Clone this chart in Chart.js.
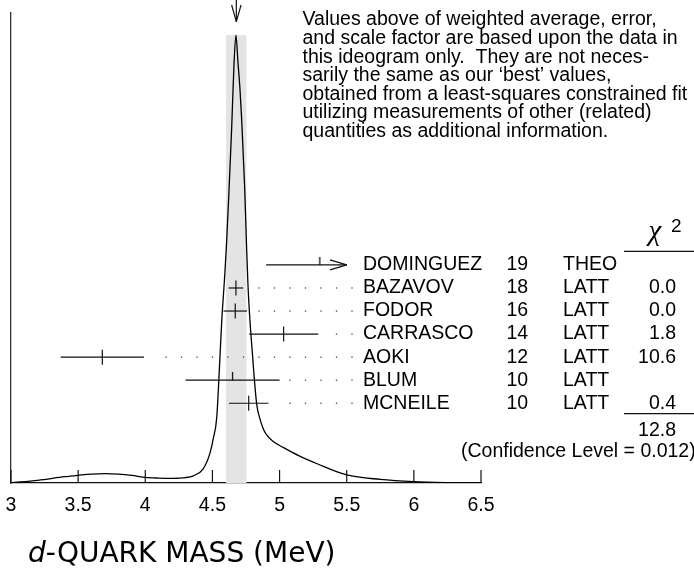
<!DOCTYPE html>
<html>
<head>
<meta charset="utf-8">
<script src="https://cdn.jsdelivr.net/npm/chart.js@4.4.1/dist/chart.umd.min.js"></script>
<style>
  html, body { margin: 0; padding: 0; background: #fff; }
  #wrap { width: 694px; height: 570px; }
</style>
</head>
<body>
<div id="wrap"><canvas id="ideogram" width="694" height="570"></canvas></div>
<script>
// measurements, top row first
const experiments = ['DOMINGUEZ', 'BAZAVOV', 'FODOR', 'CARRASCO', 'AOKI', 'BLUM', 'MCNEILE'];
const years = ['19', '18', '16', '14', '12', '10', '10'];
const methods = ['THEO', 'LATT', 'LATT', 'LATT', 'LATT', 'LATT', 'LATT'];
const chi2 = ['', '0.0', '0.0', '1.8', '10.6', '', '0.4'];
const masses = [5.30, 4.675, 4.67, 5.03, 3.68, 4.65, 4.77];
const errLow = [0.40, 0.054, 0.087, 0.256, 0.31, 0.35, 0.147];
const errHigh = [0.40, 0.054, 0.087, 0.258, 0.31, 0.35, 0.147];
const usedInFit = [false, true, true, true, true, false, true];

const chi2Total = '12.8';
const confidenceLevel = '0.012';
const average = 4.678;
const averageError = 0.077;   // scaled error -> grey band

// ideogram curve (peak = 100)
const curveMass = [3.0, 3.2, 3.4, 3.5, 3.6, 3.7, 3.8, 3.9, 4.0, 4.1, 4.2, 4.3, 4.357, 4.43, 4.48, 4.507,
  4.532, 4.551, 4.569, 4.593, 4.606, 4.62, 4.643, 4.66, 4.675, 4.69, 4.705, 4.718, 4.74, 4.755, 4.765,
  4.78, 4.80, 4.81, 4.83, 4.854, 4.88, 4.90, 4.95, 5.03, 5.15, 5.28, 5.5, 5.75, 6.0, 6.25, 6.5];
const curveHeight = [0.07, 0.6, 1.4, 1.72, 2.0, 2.08, 1.97, 1.68, 1.25, 1.1, 1.05, 1.2, 1.6, 3.1, 6.5, 10,
  14.6, 25, 36, 47, 54, 63, 79, 93, 100, 94, 88, 81, 66, 52, 44,
  36, 28, 24, 17.5, 14.3, 12.0, 10.9, 9.3, 7.9, 6.0, 4.3, 1.8, 0.8, 0.3, 0.1, 0.04];

const massTicks = [3, 3.5, 4, 4.5, 5, 5.5, 6, 6.5];

const noteLines = [
  'Values above of weighted average, error,',
  'and scale factor are based upon the data in',
  'this ideogram only.  They are not neces-',
  'sarily the same as our \u2018best\u2019 values,',
  'obtained from a least-squares constrained fit',
  'utilizing measurements of other (related)',
  'quantities as additional information.'
];

const sans = "'Liberation Sans', Arial, Helvetica, sans-serif";
const barLimit = 5.5;  // bars stop here (with an arrow) so they don't run into the labels
const peak = Math.max(...curveHeight);

// half tick for entries not used in the fit
const halfTick = document.createElement('canvas');
halfTick.width = 3;
halfTick.height = 16;
const hctx = halfTick.getContext('2d');
hctx.strokeStyle = '#000';
hctx.lineWidth = 1.2;
hctx.beginPath(); hctx.moveTo(1.5, 0); hctx.lineTo(1.5, 8); hctx.stroke();

const measurementSets = experiments.map((name, i) => {
  const lo = masses[i] - errLow[i];
  const hi = Math.min(masses[i] + errHigh[i], barLimit);
  return {
    label: name,
    yAxisID: 'yRow',
    data: [{x: lo, y: i}, {x: masses[i], y: i}, {x: hi, y: i}],
    borderColor: '#111',
    borderWidth: 1.2,
    pointRadius: [0, 7.5, 0],
    pointStyle: usedInFit[i] ? 'line' : halfTick,
    rotation: usedInFit[i] ? 90 : 0,
    pointBorderColor: '#111',
    pointBorderWidth: 1.2,
    fill: false,
    order: 1
  };
});

function seg(ctx, x1, y1, x2, y2) {
  ctx.beginPath(); ctx.moveTo(x1, y1); ctx.lineTo(x2, y2); ctx.stroke();
}

const ideogramDecor = {
  id: 'ideogramDecor',
  afterDraw(chart) {
    const ctx = chart.ctx;
    const xs = chart.scales.x, rs = chart.scales.yRow;
    const area = chart.chartArea;
    ctx.save();
    ctx.strokeStyle = '#111';
    ctx.lineWidth = 1.2;

    // ticks point up into the plot
    massTicks.forEach(v => {
      const px = xs.getPixelForValue(v);
      seg(ctx, px, area.bottom, px, area.bottom - 13);
    });

    // arrow on the weighted average
    const ax = xs.getPixelForValue(average);
    seg(ctx, ax, 0, ax, 21.7);
    seg(ctx, ax - 4.7, 5, ax, 21.7);
    seg(ctx, ax + 4.7, 5, ax, 21.7);

    const nameX = 363, yearX = 506.5, methodX = 563, chiX = 676;
    const dotEnd = nameX - 11, dotStep = 15.5;

    experiments.forEach((name, i) => {
      const py = rs.getPixelForValue(i);
      const hiVal = masses[i] + errHigh[i];
      const hiPx = xs.getPixelForValue(Math.min(hiVal, barLimit));
      if (hiVal > barLimit) {
        seg(ctx, hiPx - 16.7, py - 5, hiPx, py);
        seg(ctx, hiPx - 16.7, py + 5, hiPx, py);
      }
      // dotted leaders
      ctx.fillStyle = '#444';
      for (let dx = dotEnd; dx > hiPx + 10; dx -= dotStep) {
        ctx.fillRect(dx - 0.65, py - 0.65, 1.3, 1.3);
      }
      ctx.fillStyle = '#000';
      ctx.font = '19.5px ' + sans;
      ctx.textBaseline = 'middle';
      ctx.textAlign = 'left';
      ctx.fillText(name, nameX, py);
      ctx.fillText(years[i], yearX, py);
      ctx.fillText(methods[i], methodX, py);
      ctx.textAlign = 'right';
      ctx.fillText(chi2[i], chiX, py);
    });

    // chi^2 column
    ctx.textAlign = 'center';
    ctx.textBaseline = 'alphabetic';
    ctx.font = "italic 29px 'Liberation Serif', serif";
    ctx.fillText('\u03c7', 655, 240);
    ctx.textAlign = 'left';
    ctx.font = '19px ' + sans;
    ctx.fillText('2', 671, 232);
    seg(ctx, 624, rs.getPixelForValue(-0.59), 694, rs.getPixelForValue(-0.59));
    seg(ctx, 624, rs.getPixelForValue(6.45), 694, rs.getPixelForValue(6.45));
    ctx.textBaseline = 'middle';
    ctx.font = '19.5px ' + sans;
    ctx.textAlign = 'right';
    ctx.fillText(chi2Total, chiX, rs.getPixelForValue(7.2));
    ctx.textAlign = 'left';
    ctx.fillText('(Confidence Level = ' + confidenceLevel + ')', 461, rs.getPixelForValue(8.12));

    // note
    noteLines.forEach((t, k) => ctx.fillText(t, 302.5, 20 + k * 18.6));

    // axis title
    ctx.textBaseline = 'alphabetic';
    ctx.font = "oblique 28px 'DejaVu Sans', sans-serif";
    ctx.fillText('d', 28, 562);
    const dw = ctx.measureText('d').width;
    ctx.font = "28px 'DejaVu Sans', sans-serif";
    ctx.fillText('-QUARK MASS (MeV)', 28 + dw, 562);
    ctx.restore();
  }
};

new Chart(document.getElementById('ideogram'), {
  type: 'line',
  data: {
    datasets: [
      ...measurementSets,
      {
        label: 'ideogram',
        data: curveMass.map((m, i) => ({x: m, y: curveHeight[i]})),
        borderColor: '#000',
        borderWidth: 1.3,
        pointRadius: 0,
        cubicInterpolationMode: 'monotone',
        fill: false,
        order: 2
      },
      {
        label: 'average band',
        data: [{x: average - averageError, y: peak}, {x: average + averageError, y: peak}],
        borderWidth: 0,
        pointRadius: 0,
        backgroundColor: '#e4e4e4',
        fill: 'origin',
        order: 3
      }
    ]
  },
  options: {
    responsive: false,
    animation: false,
    events: [],
    layout: {
      autoPadding: false,
      padding: { left: 11, right: 213, top: 13, bottom: 41.6 }
    },
    plugins: {
      legend: { display: false },
      tooltip: { enabled: false },
      title: { display: false }
    },
    scales: {
      x: {
        type: 'linear',
        min: 3,
        max: 6.5,
        afterBuildTicks: axis => { axis.ticks = massTicks.map(v => ({value: v})); },
        afterFit: s => { s.paddingLeft = 0; s.paddingRight = 0; },
        ticks: {
          color: '#000',
          font: { family: sans, size: 19.5 },
          padding: 11,
          maxRotation: 0,
          callback: v => String(v)
        },
        grid: { drawOnChartArea: false, drawTicks: false },
        border: { display: true, color: '#111', width: 1.3 }
      },
      y: {
        min: 0,
        max: peak * 469 / 447,
        afterFit: s => { s.width = 0; },
        ticks: { display: false, padding: 0 },
        grid: { drawOnChartArea: false, drawTicks: false },
        border: { display: true, color: '#333', width: 1.3 }
      },
      yRow: {
        axis: 'y',
        type: 'linear',
        display: false,
        reverse: true,
        min: -10.93,
        max: 9.46
      }
    }
  },
  plugins: [ideogramDecor]
});
</script>
</body>
</html>
